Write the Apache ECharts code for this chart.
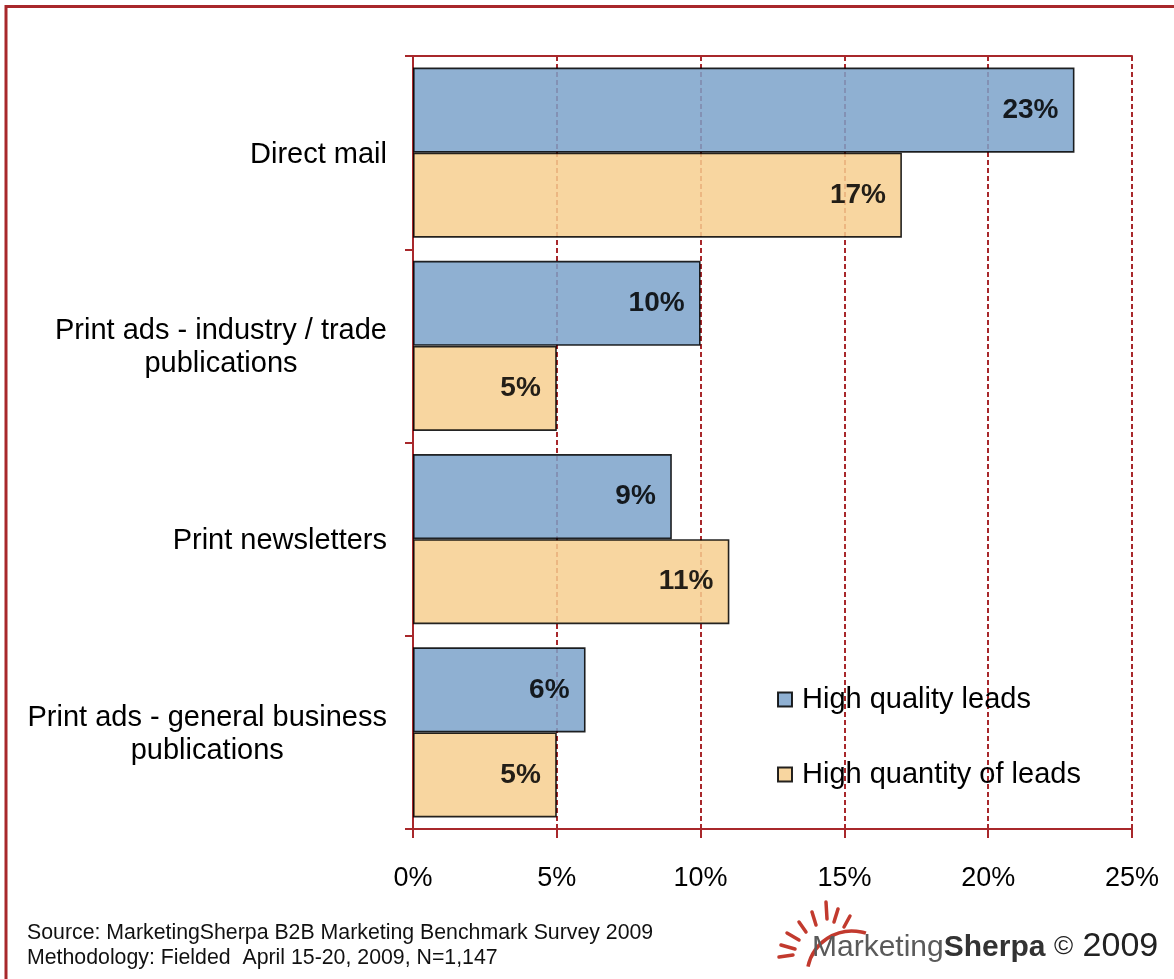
<!DOCTYPE html>
<html>
<head>
<meta charset="utf-8">
<script src="https://cdn.jsdelivr.net/npm/echarts@6/dist/echarts.min.js"></script>
<style>
  html, body { margin: 0; padding: 0; background: #fff; }
  #chart { width: 1174px; height: 979px; }
</style>
</head>
<body>
<div id="chart"></div>
<script>
// Lead-generation channels (top to bottom)
const categories = [
  'Direct mail',
  'Print ads - industry / trade\npublications',
  'Print newsletters',
  'Print ads - general business\npublications'
];
const seriesNames = ['High quality leads', 'High quantity of leads'];
const qualityLeads = [23, 10, 9, 6];
const quantityLeads = [17, 5, 11, 5];
const xTicks = { min: 0, max: 25, step: 5 };
const sourceLines = [
  'Source: MarketingSherpa B2B Marketing Benchmark Survey 2009',
  'Methodology: Fielded  April 15-20, 2009, N=1,147'
];

const FONT = "Arial, 'Liberation Sans', sans-serif";
const RED = '#A8282B';
const LOGO_RED = '#C23A2E';

const chart = echarts.init(document.getElementById('chart'), null, { renderer: 'canvas' });

function barSeries(name, data, color) {
  return {
    name: name,
    type: 'bar',
    data: data,
    barGap: '0%',
    barCategoryGap: '12%',
    itemStyle: { color: color, borderColor: '#000', borderWidth: 1.6, opacity: 0.86 },
    label: {
      show: true,
      position: 'insideRight',
      distance: 16,
      formatter: '{c}%',
      fontFamily: FONT,
      fontSize: 28,
      fontWeight: 'bold',
      color: '#000'
    }
  };
}

// Sun rays of the logo
const rayCoords = [
  [779, 957, 793, 955],
  [781, 945, 795, 949],
  [787, 933, 799, 940],
  [799, 922, 806, 932],
  [812, 912, 816, 925],
  [826, 902, 827, 919],
  [838, 909, 834, 922],
  [850, 916, 844, 927]
];
const logoParts = rayCoords.map(c => ({
  type: 'line',
  shape: { x1: c[0], y1: c[1], x2: c[2], y2: c[3] },
  style: { stroke: LOGO_RED, lineWidth: 3.5, lineCap: 'round' }
}));
logoParts.push({
  type: 'arc',
  shape: { cx: 852, cy: 976, r: 45, startAngle: 192 * Math.PI / 180, endAngle: 288 * Math.PI / 180 },
  style: { stroke: LOGO_RED, lineWidth: 3.5, fill: null }
});

chart.setOption({
  animation: false,
  backgroundColor: '#fff',
  textStyle: { fontFamily: FONT },
  grid: { left: 413, right: 42, top: 56, bottom: 150, containLabel: false },
  legend: {
    orient: 'vertical',
    left: 772,
    top: 680,
    itemWidth: 14,
    itemHeight: 14,
    itemGap: 46,
    icon: 'rect',
    textStyle: { fontFamily: FONT, fontSize: 29, color: '#000', padding: [0, 0, 0, 5] },
    data: seriesNames
  },
  xAxis: [{
    type: 'value',
    position: 'bottom',
    min: xTicks.min,
    max: xTicks.max,
    interval: xTicks.step,
    axisLine: { show: true, onZero: false, lineStyle: { color: RED, width: 2 } },
    axisTick: { show: true, length: 9, lineStyle: { color: RED, width: 2 } },
    axisLabel: { formatter: '{value}%', fontFamily: FONT, fontSize: 27, color: '#000', margin: 36 },
    splitLine: { show: true, lineStyle: { color: RED, width: 2, type: [5, 3] } }
  }, {
    type: 'value',
    position: 'top',
    min: xTicks.min,
    max: xTicks.max,
    axisLine: { show: true, onZero: false, lineStyle: { color: RED, width: 2 } },
    axisTick: { show: false },
    axisLabel: { show: false },
    splitLine: { show: false }
  }],
  yAxis: {
    type: 'category',
    inverse: true,
    data: categories,
    axisLine: { show: true, onZero: false, lineStyle: { color: RED, width: 2 } },
    axisTick: { show: true, length: 8, lineStyle: { color: RED, width: 2 } },
    axisLabel: {
      align: 'right',
      margin: 26,
      color: '#000',
      fontFamily: FONT,
      fontSize: 29,
      lineHeight: 33,
      padding: [4, 0, 0, 0],
      formatter: v => v.split('\n').map(l => '{c|' + l + '}').join('\n'),
      rich: { c: { align: 'center', fontFamily: FONT, fontSize: 29, lineHeight: 33, color: '#000' } }
    }
  },
  series: [
    barSeries(seriesNames[0], qualityLeads, '#7DA3CB'),
    barSeries(seriesNames[1], quantityLeads, '#F7CF90')
  ],
  graphic: [
    {
      type: 'rect',
      shape: { x: 6, y: 6.5, width: 1200, height: 1000 },
      style: { fill: null, stroke: '#A8282B', lineWidth: 3 },
      silent: true
    },
    {
      type: 'text',
      left: 27,
      top: 921,
      style: {
        text: sourceLines.join('\n'),
        fontFamily: FONT,
        fontSize: 21.3,
        lineHeight: 25,
        fill: '#111'
      }
    },
    {
      type: 'group',
      children: logoParts.concat([
        {
          type: 'text',
          x: 812, y: 963,
          style: {
            text: '{a|Marketing}{b|Sherpa}',
            textVerticalAlign: 'bottom',
            rich: {
              a: { fontFamily: FONT, fontSize: 30, fill: '#5a5a5a' },
              b: { fontFamily: FONT, fontSize: 30, fontWeight: 'bold', fill: '#333' }
            }
          }
        },
        {
          type: 'text',
          x: 1054, y: 964,
          style: {
            text: '{s|©} 2009',
            textVerticalAlign: 'bottom',
            fontFamily: FONT, fontSize: 34, fill: '#222',
            rich: { s: { fontFamily: FONT, fontSize: 26, fill: '#222' } }
          }
        }
      ])
    }
  ]
});
</script>
</body>
</html>
